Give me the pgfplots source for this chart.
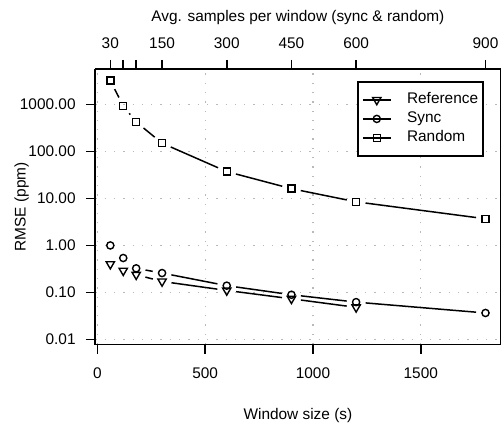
\documentclass[border=0pt]{standalone}
\usepackage{fontspec}
\setmainfont{Liberation Sans}
\usepackage{pgfplots}
\pgfplotsset{compat=1.18}
\begin{document}
\begin{tikzpicture}[x=1pt,y=1pt]
\useasboundingbox (-95.3,-78.7) rectangle (406.7,344.3);
\pgfplotsset{
  common/.style={width=405.2pt,height=275pt,scale only axis,at={(0,0)},anchor=south west,
    xmin=-9.6,xmax=1869.6,
    font=\fontsize{15.4}{18}\selectfont,
    /pgf/number format/assume math mode=true,
    axis line style={line width=1.6pt},
    every tick/.style={line width=1.6pt,black},
    major tick length=9.5pt, tick align=outside},
  seg/.style={black,line width=1.5pt,no marks,shorten >=9.5pt,shorten <=9.5pt,forget plot},
  mk/.style={black,only marks,every mark/.append style={line width=1.4pt,fill=none,solid},forget plot},
}
\begin{axis}[common,
  ymode=log, ymin=0.00783, ymax=5660,
  xtick={0,500,1000,1500}, xticklabels={0,500,1000,1500},
  ytick={0.01,0.1,1,10,100,1000},
  yticklabels={0.01,0.10,1.00,10.00,100.00,1000.00},
  yminorticks=false, minor tick num=0,
  xtick pos=bottom, ytick pos=left,
  grid=major, grid style={gray!55,line width=1.3pt,dash pattern=on 1.3pt off 8pt},
  xticklabel style={anchor=base,inner sep=0pt,yshift=-25.2pt},
  yticklabel style={anchor=east,inner sep=0pt,xshift=-10pt},
  xlabel={Window size (s)}, ylabel={RMSE (ppm)},
  xlabel style={at={(axis description cs:0.5,-0.272)},anchor=base,inner sep=0pt},
  ylabel style={at={(axis description cs:-0.172,0.5)},anchor=base,inner sep=0pt},
  legend style={at={(axis description cs:0.959,0.957)},anchor=north east,
    draw=black,line width=1.6pt,fill=white,inner xsep=4pt,inner ysep=10pt,
    row sep=3pt,
    nodes={inner sep=1pt,text height=11pt,text depth=3pt,anchor=west},
    /tikz/every odd column/.append style={column sep=14.7pt},
    font=\fontsize{15.4}{18}\selectfont},
  legend cell align=left,
  legend image code/.code={\draw[#1,mark repeat=2,mark phase=2] plot coordinates {(0pt,0pt) (13.8pt,0pt) (27.6pt,0pt)};},
]
% Reference segments
\addplot[seg] coordinates {(180,0.238) (300,0.171)};
\addplot[seg] coordinates {(300,0.171) (600,0.110)};
\addplot[seg] coordinates {(600,0.110) (900,0.073)};
\addplot[seg] coordinates {(900,0.073) (1200,0.048)};
% Sync segments
\addplot[seg] coordinates {(180,0.325) (300,0.258)};
\addplot[seg] coordinates {(300,0.258) (600,0.139)};
\addplot[seg] coordinates {(600,0.139) (900,0.089)};
\addplot[seg] coordinates {(900,0.089) (1200,0.062)};
\addplot[seg] coordinates {(1200,0.062) (1800,0.0364)};
% Random segments
\addplot[seg] coordinates {(60,3240) (120,940)};
\addplot[seg] coordinates {(120,940) (180,427)};
\addplot[seg] coordinates {(180,427) (300,151)};
\addplot[seg] coordinates {(300,151) (600,37.5)};
\addplot[seg] coordinates {(600,37.5) (900,16.2)};
\addplot[seg] coordinates {(900,16.2) (1200,8.5)};
\addplot[seg] coordinates {(1200,8.5) (1800,3.7)};
% markers
\addplot[mk,mark=triangle,mark size=4.8pt,every mark/.append style={rotate=180}] coordinates {
(60,0.40) (120,0.29) (180,0.238) (300,0.171) (600,0.110) (900,0.073) (1200,0.048)};
\addplot[mk,mark=o,mark size=3.6pt] coordinates {
(60,1.0) (120,0.54) (180,0.325) (300,0.258) (600,0.139) (900,0.089) (1200,0.062) (1800,0.0364)};
\addplot[mk,mark=square,mark size=3.5pt] coordinates {
(60,3240) (120,940) (180,427) (300,151) (600,37.5) (900,16.2) (1200,8.5) (1800,3.7)};
\addlegendimage{black,line width=1.5pt,mark=triangle,mark size=4.8pt,mark options={rotate=180,line width=1.4pt,solid}}
\addlegendentry{Reference}
\addlegendimage{black,line width=1.5pt,mark=o,mark size=3.6pt,mark options={line width=1.4pt,solid}}
\addlegendentry{Sync}
\addlegendimage{black,line width=1.5pt,mark=square,mark size=3.5pt,mark options={line width=1.4pt,solid}}
\addlegendentry{Random}
\end{axis}
\begin{axis}[common,
  ymin=0,ymax=1,
  axis x line*=top, axis y line=none,
  xtick={60,120,180,300,600,900,1200,1800},
  xticklabels={30,,,150,300,450,600,900},
  xticklabel style={anchor=base,inner sep=0pt,yshift=11pt},
  xlabel={Avg. samples per window (sync \& random)},
  xlabel style={at={(axis description cs:0.5,1.174)},anchor=base,inner sep=0pt},
]
\addplot[draw=none,forget plot] coordinates {(60,0.5)};
\end{axis}
\end{tikzpicture}
\end{document}
